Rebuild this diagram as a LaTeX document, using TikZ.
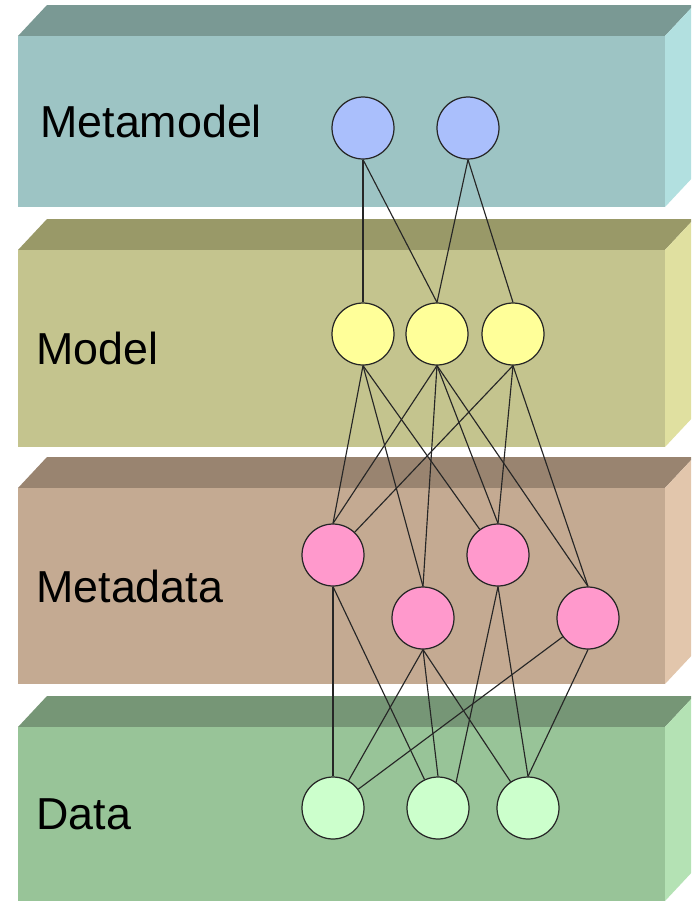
\documentclass[tikz,border=0pt]{standalone}
\usepackage{fontspec}
\setmainfont{Liberation Sans}

\definecolor{metafront}{HTML}{9DC4C4}
\definecolor{metatop}{HTML}{7A9994}
\definecolor{metaside}{HTML}{B2E0E0}
\definecolor{modelfront}{HTML}{C4C48E}
\definecolor{modeltop}{HTML}{999968}
\definecolor{modelside}{HTML}{E0E0A0}
\definecolor{mdatafront}{HTML}{C4AA92}
\definecolor{mdatatop}{HTML}{998470}
\definecolor{mdataside}{HTML}{E2C6AC}
\definecolor{datafront}{HTML}{98C498}
\definecolor{datatop}{HTML}{769676}
\definecolor{dataside}{HTML}{B4E2B4}
\definecolor{metaball}{HTML}{AABFFC}
\definecolor{modelball}{HTML}{FFFF99}
\definecolor{mdataball}{HTML}{FF99CC}
\definecolor{databall}{HTML}{CCFFCC}

\begin{document}
\begin{tikzpicture}[x=0.02cm, y=-0.02cm,
		ball/.style={circle, draw=black!85, line width=0.7pt, fill=#1, minimum size=1.24cm, inner sep=0pt},
		link/.style={line width=0.65pt, black!85},
		layer/.style={anchor=west, inner sep=0pt, font=\fontsize{25.5}{30}\selectfont}]
			\useasboundingbox (0,0) rectangle (691,903);
			\fill[white] (0,0) rectangle (691,903);
			\clip (0,0) rectangle (691,903);
			
			% layers
			\foreach \t/\b/\l/\col/\txt in {36/207/40/meta/Metamodel, 250/447/36/model/Model, 488/684/36/mdata/Metadata, 727/901/36/data/Data}{
				% lid
				\fill[fill=\col top] (18,\t) -- (47,\t-31) -- (694,\t-31) -- (665,\t) -- cycle;
				% front
				\fill[fill=\col front] (18,\t) rectangle (665,\b);
				% side
				\fill[fill=\col side] (665,\t) -- (694,\t-31) -- (694,\b-31) -- (665,\b) -- cycle;
				\node[layer] (lab-\col) at (\l,{(\t+\b)/2}) {\txt};
			}
			
			% metamodel
			\node[ball=metaball] (A1) at (363,128) {};
			\node[ball=metaball] (A2) at (468,128) {};
			% model
			\node[ball=modelball] (B1) at (363,334) {};
			\node[ball=modelball] (B2) at (437,334) {};
			\node[ball=modelball] (B3) at (513,334) {};
			% metadata
			\node[ball=mdataball] (C1) at (333,555) {};
			\node[ball=mdataball] (C2) at (423,618) {};
			\node[ball=mdataball] (C3) at (498,555) {};
			\node[ball=mdataball] (C4) at (588,618) {};
			% data
			\node[ball=databall] (D1) at (333,808) {};
			\node[ball=databall] (D2) at (438,808) {};
			\node[ball=databall] (D3) at (528,808) {};
			
			% links
			\foreach \a/\b in {A1.south/B1.north, A1.south/B2.north, A2.south/B2.north, A2.south/B3.north,
				B1.south/C1.north, B1.south/C2.north, B1.south/C3,
				B2.south/C1.north, B2.south/C2.north, B2.south/C3.north, B2.south/C4.north,
				B3.south/C1, B3.south/C3.north, B3.south/C4.north,
				C1.south/D1.north, C1.south/D2,
				C2.south/D1, C2.south/D2.north, C2.south/D3,
				C3.south/D2.55, C3.south/D3.north,
				C4/D1, C4.south/D3.north}
				\draw[link] (\a) -- (\b);
		\end{tikzpicture}
\end{document}
